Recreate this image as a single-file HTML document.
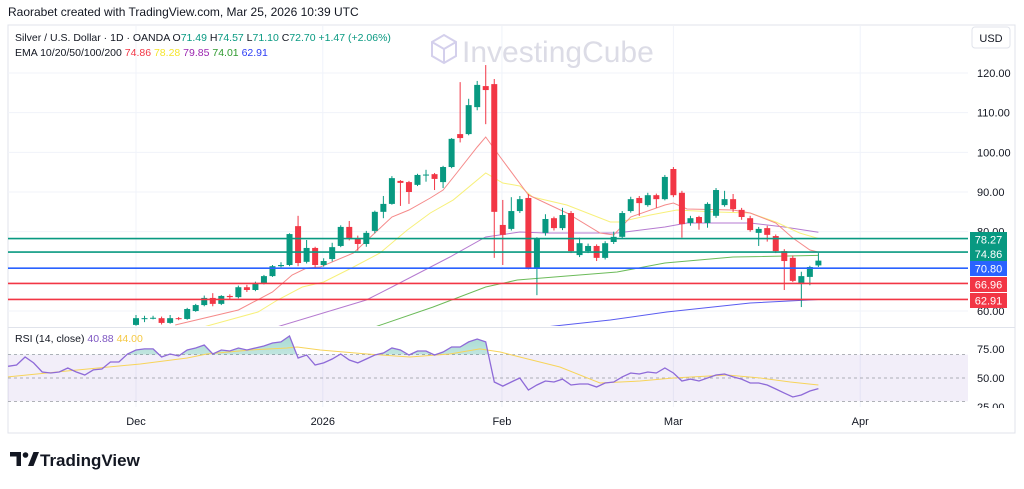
<!DOCTYPE html>
<html><head><meta charset="utf-8"><style>
body{margin:0;background:#fff;width:1024px;height:484px;overflow:hidden;font-family:"Liberation Sans",sans-serif;}
</style></head><body>
<svg id="chart" width="1024" height="484" viewBox="0 0 1024 484" xmlns="http://www.w3.org/2000/svg">
<defs>
<clipPath id="pclip"><rect x="8" y="26" width="960" height="300"/></clipPath>
<clipPath id="rclip"><rect x="8" y="329" width="960" height="78"/></clipPath>
<clipPath id="ob"><rect x="8" y="329" width="960" height="25.6"/></clipPath>
<linearGradient id="gg" x1="0" y1="0" x2="0" y2="1"><stop offset="0" stop-color="#089981" stop-opacity="0.35"/><stop offset="1" stop-color="#089981" stop-opacity="0.03"/></linearGradient>
</defs>
<text x="8" y="16" font-size="12" fill="#131722">Raorabet created with TradingView.com, Mar 25, 2026 10:39 UTC</text>
<rect x="8" y="25" width="1007" height="408" fill="none" stroke="#e0e3eb"/>
<g id="grid"></g>
<g>
<path d="M432 42 l12 -7 l12 7 v14 l-12 7 l-12 -7z M432 42 l12 7 l12 -7 M444 49 v14" fill="none" stroke="#d4d0ec" stroke-width="2"/>
<text x="462" y="62" font-size="30" fill="#dcdce6">InvestingCube</text>
</g>
<text x="15" y="41" font-size="10.5" fill="#131722">Silver / U.S. Dollar · 1D · OANDA <tspan>O</tspan><tspan fill="#089981">71.49</tspan> H<tspan fill="#089981">74.57</tspan> L<tspan fill="#089981">71.10</tspan> C<tspan fill="#089981">72.70</tspan> <tspan fill="#089981">+1.47 (+2.06%)</tspan></text>
<text x="15" y="56" font-size="10.5" fill="#131722">EMA 10/20/50/100/200 <tspan fill="#f23645">74.86</tspan> <tspan fill="#f5e52e">78.28</tspan> <tspan fill="#9c27b0">79.85</tspan> <tspan fill="#2e9a2e">74.01</tspan> <tspan fill="#2b3cf5">62.91</tspan></text>
<rect x="972" y="27" width="38" height="21" rx="3" fill="#fff" stroke="#e0e3eb"/>
<text x="991" y="42" font-size="11" text-anchor="middle" fill="#131722">USD</text>
<line x1="8" y1="327.5" x2="1015" y2="327.5" stroke="#e0e3eb"/>
<g id="price" clip-path="url(#pclip)"></g>
<g id="levels"></g>
<g id="yaxis"></g>
<g id="rsi"></g>
<g id="xaxis"></g>
<text x="15" y="342" font-size="10.5" fill="#131722">RSI (14, close) <tspan fill="#7e57c2">40.88</tspan> <tspan fill="#f5c842">44.00</tspan></text>
<g>
<path d="M10 452 h11 v14 h-4.5 v-9.5 h-6.5z" fill="#131722"/><circle cx="25.5" cy="455" r="2.8" fill="#131722"/><path d="M28 466 l5.5 -14 h5.5 l-5.5 14z" fill="#131722"/>
<text x="40" y="466" font-size="17" font-weight="bold" fill="#131722">TradingView</text>
</g>
</svg>
<script>
const NS="http://www.w3.org/2000/svg";
const opens=[56.5,58.0,58.2,58.2,57.0,58.2,58.0,60.0,61.5,63.3,61.8,63.8,63.5,66.0,65.3,67.0,68.8,71.3,71.6,81.4,72.4,75.9,71.6,73.1,76.4,81.2,78.2,76.9,80.2,85.0,87.0,92.8,92.5,91.8,94.2,94.5,92.5,96.3,104.6,104.6,111.4,116.7,117.2,81.7,80.7,85.2,88.5,70.8,79.7,83.4,80.9,84.7,74.1,75.1,76.4,73.4,77.4,78.7,85.2,88.5,86.7,89.2,88.2,95.8,89.8,82.2,83.7,82.2,84.0,86.7,88.2,85.5,83.4,79.7,80.9,78.9,75.1,73.4,66.8,68.6,71.5];
const highs=[59.0,58.8,58.8,58.6,59.0,58.5,60.8,61.8,63.9,64.5,64.0,64.2,66.4,66.6,67.4,69.1,71.6,72.3,79.6,84.0,77.9,76.2,73.3,77.2,81.6,82.7,79.0,80.2,85.3,89.0,94.0,93.0,92.8,94.6,95.6,94.8,96.6,103.6,117.7,113.5,118.0,122.0,118.5,88.0,88.7,89.0,89.5,78.6,84.4,83.8,86.0,85.2,78.5,77.0,76.8,77.6,80.0,85.2,88.8,89.0,89.8,89.6,94.3,96.3,90.3,84.0,84.0,87.4,91.0,90.3,89.5,86.0,84.0,81.2,81.5,79.3,75.6,74.0,69.9,71.4,74.6];
const lows=[56.3,57.2,57.9,56.6,56.8,57.7,57.8,59.8,61.2,61.2,61.5,62.8,63.2,64.8,65.0,66.7,68.6,71.0,71.3,71.3,72.0,70.9,71.2,72.5,76.1,77.8,75.2,76.2,79.6,83.4,86.8,86.5,87.0,91.5,92.6,90.5,91.0,96.0,102.5,104.3,110.6,107.1,73.4,71.6,80.3,84.7,70.5,64.0,79.0,80.3,80.4,74.6,73.6,74.6,72.6,73.0,76.9,78.3,84.8,84.0,86.3,86.0,87.9,88.7,78.5,81.5,80.5,81.0,83.5,86.3,85.0,83.0,80.0,76.4,77.5,74.6,65.3,67.3,61.0,66.5,71.1];
const closes=[58.2,58.2,58.3,57.0,58.2,58.0,60.5,61.5,63.3,61.8,63.8,63.5,66.0,65.3,67.0,68.8,71.3,71.6,79.4,72.1,75.9,71.6,72.6,76.1,81.2,78.2,76.9,79.7,85.0,87.0,93.5,92.3,90.0,94.3,94.4,93.3,96.3,103.4,103.6,111.9,117.0,115.7,85.0,79.2,85.2,88.2,70.8,78.2,83.2,80.9,84.2,75.1,77.1,76.4,73.4,77.1,78.7,84.7,88.2,87.2,89.2,88.2,93.8,89.2,81.9,83.4,82.2,87.0,90.5,88.2,85.7,83.7,80.4,80.7,79.2,75.1,72.6,67.6,68.8,71.1,72.7];
const ema10Idx=[4.6,12,16,18.3,20,21.6,25.5,28,30,32,34.5,36,37.6,40,41,42.7,46,50.5,54.4,56,58,62,63,64.6,70,72,75,77,79,80];
const ema10Val=[56.47,60.25,64.79,69.07,70.84,71.09,74.62,79.66,83.69,85.46,88.48,90.5,94.79,101.34,103.86,98.82,89.24,84.7,79.66,79.16,83.69,86.72,87.22,85.71,85.46,84.7,82.18,78.4,75.38,74.86];
const ema20Idx=[7.9,14.3,16.6,19.5,22,25.5,28.6,31.8,34.5,37.2,41,43,45,46.5,50.5,55.6,56.7,60.3,63.4,68,72,75,77.8,80];
const ema20Val=[55.97,59.75,62.77,66.05,67.31,71.09,74.62,80.42,84.7,88.0,94.79,92.27,91.51,88.74,86.72,82.43,82.43,84.2,85.46,84.95,84.7,82.43,79.66,78.28];
const ema50Idx=[16.5,27,30,36.8,41,45,48,56.4,62,64.6,72,76,80];
const ema50Val=[55.97,62.77,66.05,73.61,78.65,79.91,79.66,79.66,81.17,82.18,82.18,81.17,79.85];
const ema100Idx=[28,34.8,41,44.7,50.5,56.4,62,70,80];
const ema100Val=[55.97,61.0,66.05,67.81,68.82,69.83,72.1,73.61,74.01];
const ema200Idx=[48,55.6,62.2,72,80];
const ema200Val=[55.97,57.73,59.75,62.02,62.91];
const levelVals=[78.27,74.86,70.80,66.96,62.91];
const levelColors=["#089981","#089981","#2962ff","#f23645","#f23645"];
const priceTicks=[120,110,100,90,80,60];
const rsiStart=-15;
const rsiVals=[60.0,61.1,68.0,62.9,55.1,54.3,55.1,58.6,55.1,52.6,56.9,57.7,63.7,63.7,70.6,74.0,74.9,74.9,68.0,70.6,68.9,74.0,75.7,78.3,70.6,74.0,73.1,75.7,74.0,75.7,77.4,80.0,80.9,86.0,67.1,69.7,61.1,62.9,66.3,70.6,65.4,62.9,66.3,69.7,71.4,75.7,74.0,69.7,73.1,73.1,69.7,72.3,76.6,76.6,80.9,83.4,80.9,46.6,43.1,46.6,50.0,39.7,44.0,47.4,46.6,49.1,44.0,44.9,44.9,42.3,45.7,46.6,50.9,54.3,53.4,55.1,54.3,58.6,54.3,47.4,49.1,47.4,50.0,52.6,53.4,50.9,49.1,45.7,45.7,44.0,40.6,37.1,33.7,35.4,38.9,40.88];
const rsiMaIdx=[-15,-8.1,0.5,6,8.3,13.4,17.7,18.9,21.6,27.1,32.1,36.8,40.3,42.7,45,49.7,54.4,59.1,63,69.3,73.2,76.7,80];
const rsiMaVal=[50.9,56.0,62.0,67.1,70.6,74.0,75.7,76.6,74.0,70.6,68.0,70.6,74.9,72.3,68.0,59.4,45.7,47.4,50.0,52.6,50.0,46.6,44.0];
const rsiTicks=[75,50,25];
const dateLabels=["Dec","2026","Feb","Mar","Apr"];
const dateIdx=[0,21.9,42.9,63,84.9];

const xC=i=>136+i*8.53;
const yP=v=>73+(120-v)*3.967;
const yR=v=>378-(v-50)*1.167;
function mk(tag,attrs,parent){const e=document.createElementNS(NS,tag);for(const k in attrs)e.setAttribute(k,attrs[k]);parent.appendChild(e);return e;}
const grid=document.getElementById('grid'),price=document.getElementById('price'),levels=document.getElementById('levels'),yaxis=document.getElementById('yaxis'),rsi=document.getElementById('rsi'),xaxis=document.getElementById('xaxis');

priceTicks.forEach(t=>{
  const l=mk('line',{x1:8,x2:968,y1:yP(t),y2:yP(t),stroke:'#f0f3fa'},grid);
  
  
  const tx=mk('text',{x:977,y:yP(t)+4,'font-size':11,fill:'#131722'},yaxis);
  tx.textContent=t.toFixed(2);
  
  
});
dateLabels.forEach((d,k)=>{
  const x=xC(dateIdx[k]);
  const l=mk('line',{x1:x,x2:x,y1:26,y2:407,stroke:'#f0f3fa'},grid);
  
  
  const tx=mk('text',{x:x,y:425,'font-size':11,'text-anchor':'middle',fill:'#131722'},xaxis);
  tx.textContent=d;
  
  
});
function line(idx,val,color,name,parent,yf,w){
  const p=idx.map((i,k)=>xC(i).toFixed(1)+','+yf(val[k]).toFixed(1)).join(' ');
  const el=mk('polyline',{points:p,fill:'none',stroke:color,'stroke-width':w||1},parent);
  
  
}
line(ema200Idx,ema200Val,'#5a5cf0','ema-200-line',price,yP);
line(ema100Idx,ema100Val,'#6cbb5a','ema-100-line',price,yP);
line(ema50Idx,ema50Val,'#b57ad0','ema-50-line',price,yP);
line(ema20Idx,ema20Val,'#f7f07a','ema-20-line',price,yP);
line(ema10Idx,ema10Val,'#f58a8a','ema-10-line',price,yP);
levelVals.forEach((v,k)=>{
  const l=mk('line',{x1:8,x2:968,y1:yP(v),y2:yP(v),stroke:levelColors[k],'stroke-width':1.6},levels);
  
  
});
opens.forEach((o,i)=>{
  const c=closes[i],col=c>=o?'#089981':'#f23645',x=xC(i);
  const w=mk('line',{x1:x,x2:x,y1:yP(highs[i]),y2:yP(lows[i]),stroke:col,'stroke-width':1},price);
  
  
  const top=yP(Math.max(o,c)),h=Math.max(1,Math.abs(yP(o)-yP(c)));
  const b=mk('rect',{x:x-3,y:top,width:6,height:h,fill:col},price);
  
  
});
const lblY=[232,246.5,261,277,293];
levelVals.forEach((v,k)=>{
  const r=mk('rect',{x:970,y:lblY[k],width:37,height:15,fill:levelColors[k]},yaxis);
  
  
  const tx=mk('text',{x:988.5,y:lblY[k]+11.5,'font-size':11,'text-anchor':'middle',fill:'#fff'},yaxis);
  tx.textContent=v.toFixed(2);
  
  
});
const band=mk('rect',{x:8,y:yR(70),width:960,height:yR(30)-yR(70),fill:'#7e57c2','fill-opacity':0.1},rsi);


[70,50,30].forEach(v=>{
  const l=mk('line',{x1:8,x2:968,y1:yR(v),y2:yR(v),stroke:'#9598a1','stroke-dasharray':'3,3','stroke-width':0.8},rsi);
  
  
});
const rIdx=rsiVals.map((v,k)=>rsiStart+k);
const fillPts=rIdx.map((i,k)=>xC(i).toFixed(1)+','+yR(rsiVals[k]).toFixed(1)).join(' ')+' '+xC(rIdx[rIdx.length-1])+','+yR(70)+' '+xC(rsiStart)+','+yR(70);
const ob=mk('polygon',{points:fillPts,fill:'url(#gg)','clip-path':'url(#ob)'},rsi);


const rg=mk('g',{'clip-path':'url(#rclip)'},rsi);
line(rsiMaIdx,rsiMaVal,'#f7d45a','rsi-ma-line',rg,yR);
line(rIdx,rsiVals,'#8e6ad8','rsi-line',rg,yR,1.3);
rsiTicks.forEach(t=>{
  const tx=mk('text',{x:977,y:yR(t)+4,'font-size':11,fill:'#131722'},rsi);
  tx.textContent=t.toFixed(2);
  
  
});
const cover=mk('rect',{x:968,y:408,width:46,height:10,fill:'#fff'},rsi);


</script>
</body></html>
